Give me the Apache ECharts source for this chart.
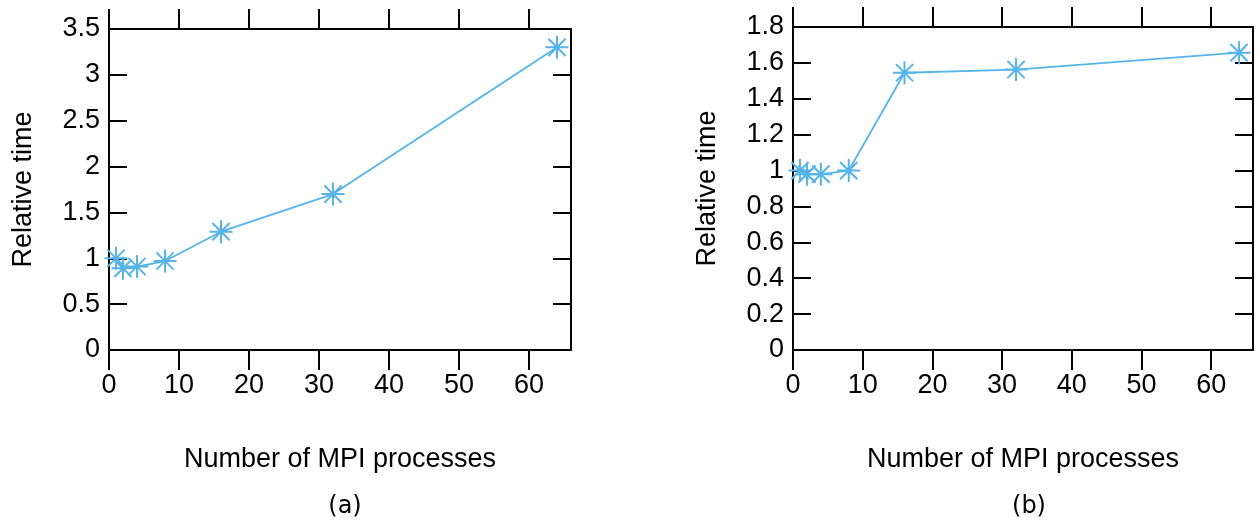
<!DOCTYPE html>
<html>
<head>
<meta charset="utf-8">
<script src="https://cdn.jsdelivr.net/npm/echarts@6/dist/echarts.min.js"></script>
<style>
html,body{margin:0;padding:0;background:#fff;}
#c{width:1260px;height:522px;}
</style>
</head>
<body>
<div id="c"></div>
<script>
// ---- data ----
var procs = [1, 2, 4, 8, 16, 32, 64];
var timeA = [1.0, 0.89, 0.91, 0.97, 1.29, 1.70, 3.30];
var timeB = [1.0, 0.98, 0.98, 1.0, 1.545, 1.563, 1.657];
var xTicks = [0, 10, 20, 30, 40, 50, 60];
var yTicksA = [0, 0.5, 1, 1.5, 2, 2.5, 3, 3.5];
var yTicksB = [0, 0.2, 0.4, 0.6, 0.8, 1, 1.2, 1.4, 1.6, 1.8];
var xName = 'Number of MPI processes';
var yName = 'Relative time';
var panelLabels = ['(a)', '(b)'];

var FONT = 'Liberation Sans, Arial, sans-serif';
var COLOR = '#56b4e9';
var STAR = 'path://M0,10L20,10M10,0L10,20M2.5,2.5L17.5,17.5M17.5,2.5L2.5,17.5';

function pairs(xs, ys) { return xs.map(function (x, i) { return [x, ys[i]]; }); }

function xAxes(gi) {
  return [{
    type: 'value', gridIndex: gi, min: 0, max: 66, position: 'bottom',
    name: xName, nameLocation: 'middle', nameGap: 96,
    nameTextStyle: { fontFamily: FONT, fontSize: 27, color: '#000' },
    axisLine: { show: true, onZero: false, lineStyle: { color: '#000', width: 2 } },
    axisTick: { show: true, inside: false, length: 20, customValues: xTicks, lineStyle: { color: '#000', width: 2 } },
    axisLabel: { show: true, customValues: xTicks, fontFamily: FONT, fontSize: 27, color: '#000', margin: 22 },
    splitLine: { show: false }
  }, {
    type: 'value', gridIndex: gi, min: 0, max: 66, position: 'top',
    axisLine: { show: true, onZero: false, lineStyle: { color: '#000', width: 2 } },
    axisTick: { show: true, inside: false, length: 20, customValues: xTicks, lineStyle: { color: '#000', width: 2 } },
    axisLabel: { show: false },
    splitLine: { show: false }
  }];
}

function yAxes(gi, max, ticks) {
  return [{
    type: 'value', gridIndex: gi, min: 0, max: max, position: 'left',
    name: yName, nameLocation: 'middle', nameGap: 72, nameRotate: 90,
    nameTextStyle: { fontFamily: FONT, fontSize: 27, color: '#000' },
    axisLine: { show: true, onZero: false, lineStyle: { color: '#000', width: 2 } },
    axisTick: { show: true, inside: true, length: 18, customValues: ticks, lineStyle: { color: '#000', width: 2 } },
    axisLabel: { show: true, customValues: ticks, fontFamily: FONT, fontSize: 27, color: '#000', margin: 9 },
    splitLine: { show: false }
  }, {
    type: 'value', gridIndex: gi, min: 0, max: max, position: 'right',
    axisLine: { show: true, onZero: false, lineStyle: { color: '#000', width: 2 } },
    axisTick: { show: true, inside: true, length: 18, customValues: ticks, lineStyle: { color: '#000', width: 2 } },
    axisLabel: { show: false },
    splitLine: { show: false }
  }];
}

function series(gi, ys) {
  return {
    type: 'line', xAxisIndex: gi * 2, yAxisIndex: gi * 2,
    data: pairs(procs, ys),
    symbol: STAR, symbolSize: 23, clip: false,
    itemStyle: { color: COLOR, borderColor: COLOR, borderWidth: 2 },
    lineStyle: { color: COLOR, width: 1.8 },
    emphasis: { disabled: true }
  };
}

var chart = echarts.init(document.getElementById('c'), null, { renderer: 'canvas' });
chart.setOption({
  animation: false,
  backgroundColor: '#fff',
  title: [
    { text: panelLabels[0], left: 340, top: 490, textAlign: 'center',
      textStyle: { fontFamily: 'DejaVu Sans', fontSize: 24, fontWeight: 'normal', color: '#000' } },
    { text: panelLabels[1], left: 1024, top: 490, textAlign: 'center',
      textStyle: { fontFamily: 'DejaVu Sans', fontSize: 24, fontWeight: 'normal', color: '#000' } }
  ],
  grid: [
    { left: 109, top: 29, width: 462, bottom: 172 },
    { left: 793, top: 27, width: 460, bottom: 172 }
  ],
  xAxis: xAxes(0).concat(xAxes(1)),
  yAxis: yAxes(0, 3.5, yTicksA).concat(yAxes(1, 1.8, yTicksB)),
  series: [series(0, timeA), series(1, timeB)]
});
</script>
</body>
</html>
